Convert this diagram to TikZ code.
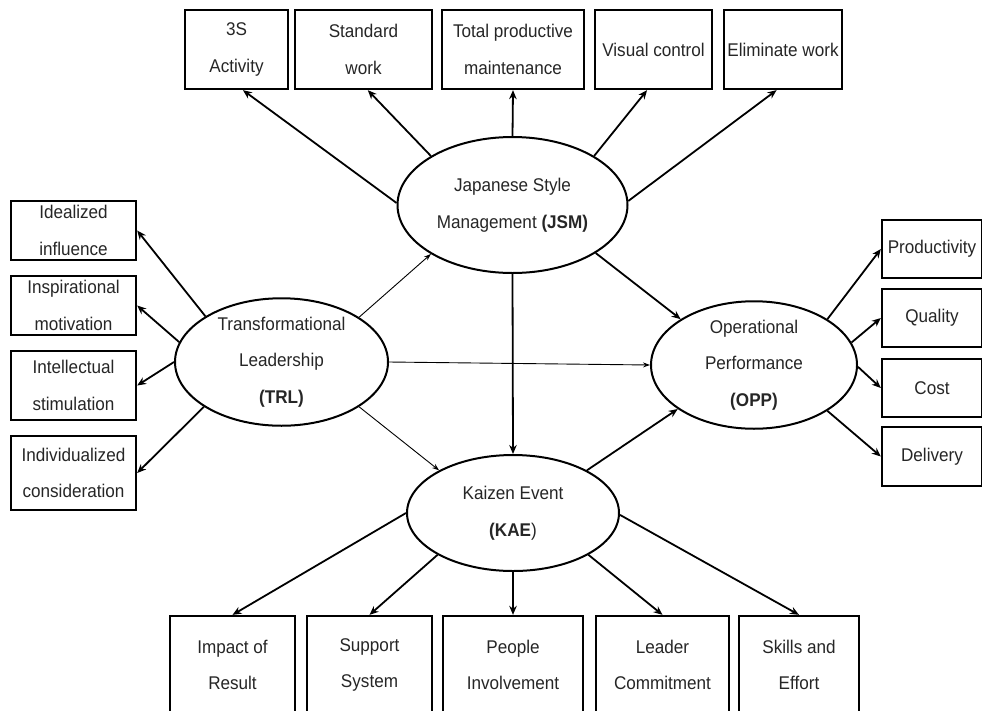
\documentclass[tikz,border=0pt]{standalone}
\usepackage{fontspec}
\setmainfont{Liberation Sans}[FakeStretch=0.93]
\usetikzlibrary{arrows.meta,shapes.geometric}
\begin{document}
\begin{tikzpicture}[x=1pt,y=-1pt,
  lbl/.style={font=\fontsize{18.4}{36.5}\selectfont, align=center, text=black!85},
  box/.style={lbl, draw, rectangle, line width=2.3pt, inner sep=0pt},
  construct/.style={lbl, draw, ellipse, line width=2pt, inner sep=0pt},
  link/.style={-{Stealth[length=9pt,width=7.5pt]}, line width=1.8pt},
  weak/.style={-{Stealth[length=7pt,width=5pt]}, line width=0.9pt}
]
\fill[white] (0,0) rectangle (982,710);
\clip (0,0) rectangle (982,710);
\useasboundingbox (0,0) rectangle (982,710);

% latent constructs
\node[construct, minimum width=230pt, minimum height=136pt] (jsm) at (512.5,205) {Japanese Style\\Management \textbf{(JSM)}};
\node[construct, minimum width=213pt, minimum height=124pt] (trl) at (281.5,362) {Transformational\\Leadership\\\textbf{(TRL)}};
\node[construct, minimum width=206pt, minimum height=126pt] (opp) at (754,365) {Operational\\Performance\\\textbf{(OPP)}};
\node[construct, minimum width=212pt, minimum height=116pt] (kae) at (513,513) {Kaizen Event\\\textbf{(KAE})};

% JSM indicators
\node[box, minimum width=103pt, minimum height=79pt] (s3)  at (236.5,49.5) {3S\\Activity};
\node[box, minimum width=137pt, minimum height=79pt] (sw)  at (363.5,49.5) {Standard\\work};
\node[box, minimum width=142pt, minimum height=79pt] (tpm) at (513,49.5)   {Total productive\\maintenance};
\node[box, minimum width=117pt, minimum height=79pt] (vc)  at (653.5,49.5) {Visual control};
\node[box, minimum width=118pt, minimum height=79pt] (ew)  at (783,49.5)   {Eliminate work};

% TRL indicators
\node[box, minimum width=125pt, minimum height=59pt] (ii) at (73.5,230.5) {Idealized\\influence};
\node[box, minimum width=125pt, minimum height=59pt] (im) at (73.5,305.5) {Inspirational\\motivation};
\node[box, minimum width=125pt, minimum height=69pt] (is) at (73.5,385.5) {Intellectual\\stimulation};
\node[box, minimum width=125pt, minimum height=74pt] (ic) at (73.5,473)   {Individualized\\consideration};

% OPP indicators
\node[box, minimum width=100pt, minimum height=58pt] (pr) at (932,249)   {Productivity};
\node[box, minimum width=100pt, minimum height=58pt] (qu) at (932,318)   {Quality};
\node[box, minimum width=100pt, minimum height=58pt] (co) at (932,388)   {Cost};
\node[box, minimum width=100pt, minimum height=59pt] (de) at (932,456.5) {Delivery};

% KAE indicators
\node[box, minimum width=125pt, minimum height=98pt] (ir) at (232.5,665) {Impact of\\Result};
\node[box, minimum width=125pt, minimum height=98pt] (ss) at (369.5,665) {Support\\System};
\node[box, minimum width=140pt, minimum height=98pt] (pi) at (513,665)   {People\\Involvement};
\node[box, minimum width=133pt, minimum height=98pt] (lc) at (662.5,665) {Leader\\Commitment};
\node[box, minimum width=120pt, minimum height=98pt] (se) at (799,665)   {Skills and\\Effort};

% JSM to its indicators
\draw[link] (jsm.179) -- (s3.-81);
\draw[link] (jsm.149) -- (sw.-84);
\draw[link] (jsm.north) -- (tpm.south);
\draw[link] (jsm.31) -- (vc.-99);
\draw[link] (jsm.2) -- (ew.-99);

% structural paths
\draw[link] (jsm.south) -- (kae.north);
\draw[link] (jsm.330) -- (opp.148);
\draw[link] (kae.30) -- (opp.210);
\draw[weak] (trl.30) -- (jsm.211);
\draw[weak] (trl.east) -- (opp.west);
\draw[weak] (trl.330) -- (kae.150);

% TRL to its indicators
\draw[link] (trl.149) -- (ii.east);
\draw[link] (trl.169) -- (im.east);
\draw[link] (trl.west) -- (is.east);
\draw[link] (trl.210) -- (ic.east);

% OPP to its indicators
\draw[link] (opp.32) -- (pr.west);
\draw[link] (opp.13) -- (qu.west);
\draw[link] (opp.359) -- (co.west);
\draw[link] (opp.328) -- (de.west);

% KAE to its indicators
\draw[link] (kae.west) -- (ir.north);
\draw[link] (kae.209) -- (ss.north);
\draw[link] (kae.south) -- (pi.north);
\draw[link] (kae.331) -- (lc.north);
\draw[link] (kae.359) -- (se.north);
\end{tikzpicture}
\end{document}
